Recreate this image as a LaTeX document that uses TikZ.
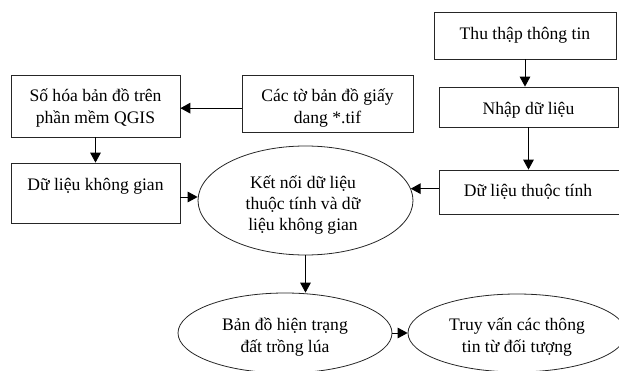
\documentclass[tikz,border=0pt]{standalone}
\usepackage{fontspec}
\setmainfont{Liberation Serif}
\usetikzlibrary{arrows.meta,shapes.geometric}
\begin{document}
\begin{tikzpicture}[x=0.75pt,y=-0.75pt,
  box/.style={draw=black!85, line width=0.6pt, inner sep=0pt, rectangle},
  oval/.style={draw=black!85, line width=0.6pt, inner sep=0pt, ellipse},
  lbl/.style={inner sep=0pt, align=center, font=\fontsize{13.2}{16}\selectfont},
  arr/.style={draw=black, line width=0.75pt, -{Triangle[length=7.5pt,width=8pt]}}]
\useasboundingbox (0,0) rectangle (619,371);
\clip (0,0) rectangle (619,371);
% boxes
\node[box, minimum width=136.5pt, minimum height=35.25pt] (A) at (525,35.5) {};
\node[box, minimum width=134.25pt, minimum height=30pt] (B) at (528.5,107) {};
\node[box, minimum width=135pt, minimum height=33pt] (C) at (529,192) {};
\node[box, minimum width=126.75pt, minimum height=46.5pt] (D) at (95.5,106) {};
\node[box, minimum width=128.25pt, minimum height=42.75pt] (E) at (327.5,103.5) {};
\node[box, minimum width=126.75pt, minimum height=45pt] (F) at (95.5,193) {};
\node[oval, minimum width=161.25pt, minimum height=81.75pt] (G) at (305.5,200.5) {};
\node[oval, minimum width=160.5pt, minimum height=60pt] (H) at (285,333) {};
\node[oval, minimum width=163.5pt, minimum height=58.5pt] (I) at (517,333) {};
% labels
\node[lbl] (tA) at (525,35.5) {Thu thập thông tin};
\node[lbl] (tB) at (528.5,110) {Nhập dữ liệu};
\node[lbl] (tC) at (528,192) {Dữ liệu thuộc tính};
\node[lbl] (tD) at (95.5,108) {Số hóa bản đồ trên\\phần mềm QGIS};
\node[lbl] (tE) at (327.5,108) {Các tờ bản đồ giấy\\dang *.tif};
\node[lbl] (tF) at (95.5,186) {Dữ liệu không gian};
\node[lbl] (tG) at (303,205) {Kết nối dữ liệu\\thuộc tính và dữ\\liệu không gian};
\node[lbl] (tH) at (285,337) {Bản đồ hiện trạng\\đất trồng lúa};
\node[lbl] (tI) at (517,337) {Truy vấn các thông\\tin từ đối tượng};
% connectors
\draw[arr] (A.south) -- (B.north -| A.south);
\draw[arr] (B.south) -- (C.north -| B.south);
\draw[arr] ([yshift=2.5pt]C.west) -- ([yshift=2.5pt,xshift=-2pt]C.west -| G.east);
\draw[arr] ([yshift=-3.5pt]E.west) -- ([yshift=-3.5pt]E.west -| D.east);
\draw[arr] (D.south) -- (F.north);
\draw[arr] ([yshift=-3pt]F.east) -- ([yshift=-3pt]F.east -| G.west);
\draw[arr] (G.south) -- (G.south |- H.north);
\draw[arr] (H.east) -- (I.west);
\end{tikzpicture}
\end{document}
